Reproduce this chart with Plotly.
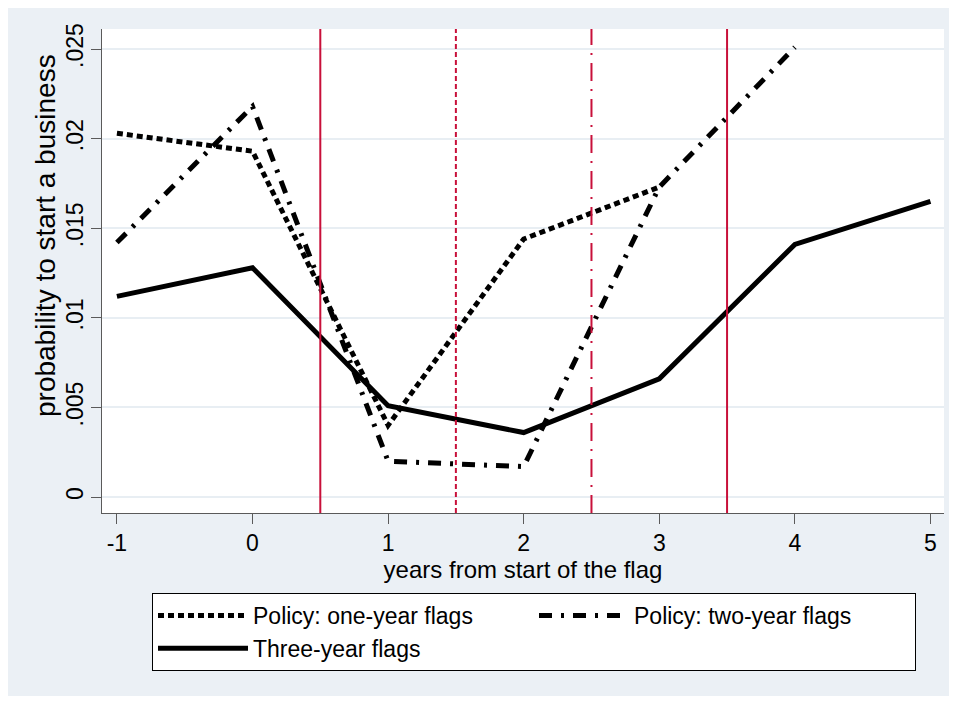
import plotly.graph_objects as go

# ---- data ----
years_three = [-1, 0, 1, 2, 3, 4, 5]
three_year = [0.0112, 0.0128, 0.0051, 0.0036, 0.0066, 0.0141, 0.0165]

years_one = [-1, 0, 1, 2, 3]
one_year = [0.0203, 0.0193, 0.0040, 0.0144, 0.0173]

years_two = [-1, 0, 1, 2, 3, 4]
two_year = [0.0142, 0.0218, 0.0020, 0.0017, 0.0173, 0.0251]

flag_edges = [0.5, 1.5, 2.5, 3.5]
flag_edge_dash = ["solid", "5px,3px", "18px,8px,2px,8px", "solid"]

x_ticks = [-1, 0, 1, 2, 3, 4, 5]
x_tick_text = ["-1", "0", "1", "2", "3", "4", "5"]
y_ticks = [0, 0.005, 0.01, 0.015, 0.02, 0.025]
y_tick_text = ["0", ".005", ".01", ".015", ".02", ".025"]

names = ["Policy: one-year flags", "Policy: two-year flags", "Three-year flags"]
x_title = "years from start of the flag"
y_title = "probability to start a business"

# ---- layout geometry (pixels); the page body adds an 8px offset ----
OFF = 8
W, H = 957 - OFF, 702 - OFF
ML, MR, MT, MB = 102 - OFF, 13, 29 - OFF, 189
PW = W - ML - MR
PH = H - MT - MB


def px(x):
    return (x - OFF - ML) / PW


def py(y):
    return (H - MB - (y - OFF)) / PH


BG = "#EBF0F5"
GRID = "#E8EEF3"
AXIS = "#5A5A5A"
RED = "#C8103A"
FONT = "Liberation Sans, Arial, sans-serif"

fig = go.Figure()
fig.add_trace(go.Scatter(x=years_one, y=one_year, mode="lines", name=names[0],
                         line=dict(color="black", width=5, dash="6px,4px")))
fig.add_trace(go.Scatter(x=years_two, y=two_year, mode="lines", name=names[1],
                         line=dict(color="black", width=5, dash="13px,9px,3px,9px")))
fig.add_trace(go.Scatter(x=years_three, y=three_year, mode="lines", name=names[2],
                         line=dict(color="black", width=5, dash="solid")))

for xv, d in zip(flag_edges, flag_edge_dash):
    fig.add_shape(type="line", xref="x", yref="paper", x0=xv, x1=xv, y0=0, y1=1,
                  line=dict(color=RED, width=2, dash=d), layer="above")

# white outer margin around the grey graph region (right and bottom)
edges = [(950, 0, 970, 720), (0, 696, 970, 720)]
for x0, y0, x1, y1 in edges:
    fig.add_shape(type="rect", xref="paper", yref="paper",
                  x0=px(x0), x1=px(x1), y0=py(y1), y1=py(y0),
                  fillcolor="white", line=dict(width=0), layer="below")

# y-axis title (placed as in the reference, slightly above the plot centre)
fig.add_annotation(text=y_title, xref="paper", yref="paper", x=px(46), y=py(236),
                   textangle=-90, xanchor="center", yanchor="middle", showarrow=False,
                   font=dict(family=FONT, size=28, color="black"))

fig.update_layout(
    template="none",
    width=W, height=H,
    margin=dict(l=ML, r=MR, t=MT, b=MB, pad=0, autoexpand=False),
    paper_bgcolor=BG, plot_bgcolor="white",
    font=dict(family=FONT, color="black", size=22),
    showlegend=True,
    legend=dict(
        orientation="h", x=px(152), y=py(593), xanchor="left", yanchor="top",
        bgcolor="white", bordercolor="black", borderwidth=1,
        font=dict(family=FONT, size=23, color="black"),
        entrywidth=276, entrywidthmode="pixels", itemwidth=90,
        traceorder="normal",
    ),
    xaxis=dict(
        range=[-1.11, 5.10], tickvals=x_ticks, ticktext=x_tick_text,
        ticks="outside", ticklen=10, automargin=False,
        tickcolor=AXIS, tickwidth=1, showline=True, linecolor=AXIS, linewidth=1,
        showgrid=False, zeroline=False, ticklabelstandoff=-1,
        tickfont=dict(size=23),
        title=dict(text=x_title, font=dict(size=24), standoff=0),
    ),
    yaxis=dict(
        range=[-0.00089, 0.02612], tickvals=y_ticks, ticktext=y_tick_text,
        tickangle=-90, ticks="outside", ticklen=10, tickcolor=AXIS, tickwidth=1,
        showline=True, linecolor=AXIS, linewidth=1, automargin=False,
        showgrid=True, gridcolor=GRID, gridwidth=2, zeroline=False,
        ticklabelstandoff=-1, tickfont=dict(size=23),
    ),
)

fig.write_html("out.html")
